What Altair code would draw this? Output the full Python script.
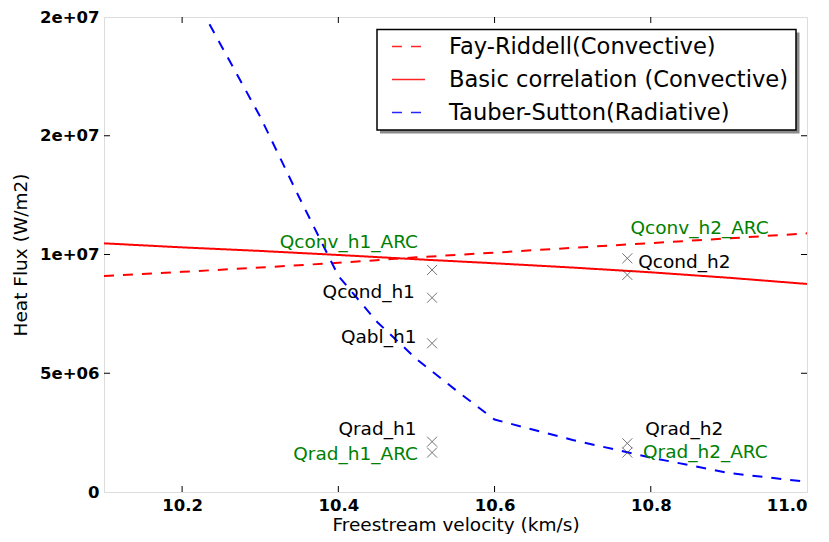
import altair as alt
import pandas as pd

# ---- data ----
velocity = [10.1, 10.2, 10.3, 10.4, 10.5, 10.6, 10.7, 10.8, 10.9, 11.0]
fay_riddell = [9.09e6, 9.27e6, 9.45e6, 9.65e6, 9.88e6, 10.08e6, 10.28e6, 10.48e6, 10.68e6, 10.89e6]
basic_corr = [10.47e6, 10.30e6, 10.15e6, 9.98e6, 9.80e6, 9.63e6, 9.45e6, 9.25e6, 9.02e6, 8.76e6]

ts_velocity = [10.2, 10.3, 10.35, 10.4, 10.45, 10.5, 10.55, 10.6, 10.7, 10.8, 10.9, 11.0]
tauber_sutton = [21.8e6, 15.8e6, 12.4e6, 9.1e6, 7.15e6, 5.6e6, 4.3e6, 3.05e6, 2.19e6, 1.45e6, 0.8e6, 0.43e6]

series_names = ["Fay-Riddell(Convective)", "Basic correlation (Convective)", "Tauber-Sutton(Radiative)"]

marker_x = [10.52, 10.52, 10.52, 10.52, 10.52, 10.77, 10.77, 10.77, 10.77]
marker_y = [9.35e6, 8.18e6, 6.26e6, 2.12e6, 1.66e6, 9.84e6, 9.14e6, 2.05e6, 1.66e6]

left_labels = ["Qconv_h1_ARC", "Qcond_h1", "Qabl_h1", "Qrad_h1", "Qrad_h1_ARC"]
left_x = [10.502, 10.498, 10.5, 10.5, 10.502]
left_y = [10.54e6, 8.43e6, 6.51e6, 2.64e6, 1.59e6]
left_kind = ["ARC", "measured", "measured", "measured", "ARC"]

right_labels = ["Qconv_h2_ARC", "Qcond_h2", "Qrad_h2", "Qrad_h2_ARC"]
right_x = [10.774, 10.784, 10.793, 10.79]
right_y = [11.1e6, 9.70e6, 2.64e6, 1.70e6]
right_kind = ["ARC", "measured", "measured", "ARC"]

x_ticks = [10.2, 10.4, 10.6, 10.8, 11.0]
y_ticks = [0, 5e6, 1e7, 1.5e7, 2e7]
x_inner_ticks = [10.2, 10.4, 10.6, 10.8]
y_inner_ticks = [5e6, 1e7, 1.5e7]

# ---- tables ----
rows = []
for v, a, b in zip(velocity, fay_riddell, basic_corr):
    rows.append({"v": v, "q": a, "series": series_names[0]})
    rows.append({"v": v, "q": b, "series": series_names[1]})
for v, c in zip(ts_velocity, tauber_sutton):
    rows.append({"v": v, "q": c, "series": series_names[2]})
lines_df = pd.DataFrame(rows)

markers_df = pd.DataFrame({"v": marker_x, "q": marker_y})
left_df = pd.DataFrame({"v": left_x, "q": left_y, "label": left_labels, "kind": left_kind})
right_df = pd.DataFrame({"v": right_x, "q": right_y, "label": right_labels, "kind": right_kind})
xt_df = pd.DataFrame({"v": x_inner_ticks})
yt_df = pd.DataFrame({"q": y_inner_ticks})
one_row = pd.DataFrame({"k": [0]})

W, H = 703, 475
FONT = "DejaVu Sans"

xscale = alt.Scale(domain=[10.1, 11.0], nice=False, zero=False)
yscale = alt.Scale(domain=[0, 2e7], nice=False, zero=False)

xaxis = alt.Axis(values=x_ticks, format=".1f", grid=False, ticks=False, tickSize=0, domain=False,
                 labelFont=FONT, labelFontSize=16.5, labelFontWeight="bold", labelColor="black",
                 labelPadding=5, title="Freestream velocity (km/s)", titleFont=FONT,
                 titleFontSize=18.5, titleFontWeight="normal", titleColor="black",
                 titleX=W / 2, titleY=38, titleBaseline="alphabetic", titleAlign="center")
yaxis = alt.Axis(values=y_ticks, grid=False, ticks=False, tickSize=0, domain=False,
                 labelExpr="datum.value == 0 ? '0' : replace(format(datum.value, '.0e'), 'e+', 'e+0')",
                 labelFont=FONT, labelFontSize=16.5, labelFontWeight="bold", labelColor="black",
                 labelPadding=5, title="Heat Flux (W/m2)", titleFont=FONT, titleFontSize=18.5,
                 titleFontWeight="normal", titleColor="black", titleX=-84, titleY=H / 2,
                 titleAngle=270, titleBaseline="middle", titleAlign="center")

# legend frame (drawn as decoration) and its shadow
shadow = alt.Chart(one_row).mark_rect(color="#8a8a8a").encode(
    x=alt.value(276), x2=alt.value(695.5), y=alt.value(15.5), y2=alt.value(116.5)
)
frame = alt.Chart(one_row).mark_rect(fill="white", stroke="black", strokeWidth=1.5).encode(
    x=alt.value(273), x2=alt.value(692), y=alt.value(12.5), y2=alt.value(113)
)

lines = alt.Chart(lines_df).mark_line(strokeWidth=2, clip=True).encode(
    x=alt.X("v:Q", scale=xscale, axis=xaxis),
    y=alt.Y("q:Q", scale=yscale, axis=yaxis),
    color=alt.Color("series:N",
                    scale=alt.Scale(domain=series_names, range=["#ff0000", "#ff0000", "#0000ff"]),
                    sort=series_names,
                    legend=alt.Legend(title=None, orient="none", legendX=287, legendY=12,
                                      symbolType="stroke", symbolSize=1089, symbolStrokeWidth=1.3,
                                      symbolOpacity=0.85,
                                      labelFont=FONT, labelFontSize=22.6, labelColor="black",
                                      labelOffset=23, padding=0, rowPadding=3,
                                      labelLimit=600)),
    strokeDash=alt.StrokeDash("series:N",
                              scale=alt.Scale(domain=series_names, range=[[10, 9], [1, 0], [10, 9]]),
                              sort=series_names, legend=alt.Legend(title=None)),
    order=alt.Order("v:Q"),
)

markers = alt.Chart(markers_df).mark_point(
    shape="M-1,-1L1,1M-1,1L1,-1", filled=False, size=100, color="#3a3a3a", strokeWidth=1
).encode(x=alt.X("v:Q", scale=xscale), y=alt.Y("q:Q", scale=yscale))

fill_scale = alt.Scale(domain=["ARC", "measured"], range=["#008000", "#000000"])

left_text = alt.Chart(left_df).mark_text(align="right", baseline="middle", font=FONT, fontSize=18.5).encode(
    x=alt.X("v:Q", scale=xscale), y=alt.Y("q:Q", scale=yscale), text="label:N",
    fill=alt.Fill("kind:N", scale=fill_scale, legend=None)
)
right_text = alt.Chart(right_df).mark_text(align="left", baseline="middle", font=FONT, fontSize=18.5).encode(
    x=alt.X("v:Q", scale=xscale), y=alt.Y("q:Q", scale=yscale), text="label:N",
    fill=alt.Fill("kind:N", scale=fill_scale, legend=None)
)

tick_style = dict(color="black", strokeWidth=1)
xt_bottom = alt.Chart(xt_df).mark_rule(**tick_style).encode(
    x=alt.X("v:Q", scale=xscale), y=alt.value(H), y2=alt.value(H - 6))
xt_top = alt.Chart(xt_df).mark_rule(**tick_style).encode(
    x=alt.X("v:Q", scale=xscale), y=alt.value(0), y2=alt.value(6))
yt_left = alt.Chart(yt_df).mark_rule(**tick_style).encode(
    y=alt.Y("q:Q", scale=yscale), x=alt.value(0), x2=alt.value(6))
yt_right = alt.Chart(yt_df).mark_rule(**tick_style).encode(
    y=alt.Y("q:Q", scale=yscale), x=alt.value(W), x2=alt.value(W - 6))

chart = alt.layer(
    lines, markers, left_text, right_text, xt_bottom, xt_top, yt_left, yt_right, shadow, frame
).properties(
    width=W, height=H,
    autosize=alt.AutoSizeParams(type="none"),
    padding={"left": 96, "top": 9, "right": 14, "bottom": 42},
).configure_view(
    stroke="black", strokeWidth=1.5
).configure(background="white")

chart.save("out.html", embed_options={"renderer": "svg", "actions": False})
